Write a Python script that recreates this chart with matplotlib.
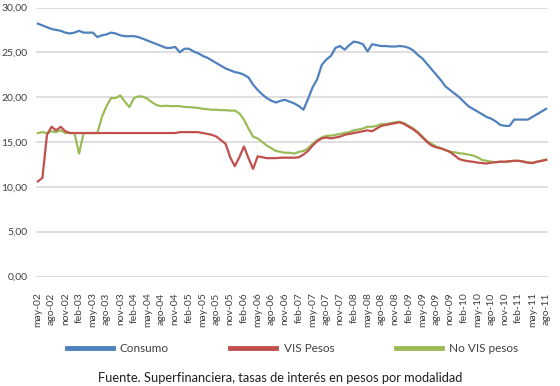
import matplotlib
matplotlib.use("Agg")
import matplotlib.pyplot as plt
import numpy as np

plt.rcParams['font.family'] = ['Lato', 'DejaVu Sans']

months_es = ['ene', 'feb', 'mar', 'abr', 'may', 'jun', 'jul', 'ago', 'sep', 'oct', 'nov', 'dic']
# monthly labels May 2002 .. Aug 2011
labels = []
for k in range(112):
    m = (4 + k) % 12
    y = 2002 + (4 + k) // 12
    labels.append(f"{months_es[m]}-{y % 100:02d}")

consumo = [28.2, 28.0, 27.8, 27.6, 27.5, 27.4, 27.2, 27.1, 27.2, 27.4,
           27.2, 27.2, 27.2, 26.7, 26.9, 27.0, 27.2, 27.1, 26.9, 26.8,
           26.8, 26.8, 26.7, 26.5, 26.3, 26.1, 25.9, 25.7, 25.5, 25.5,
           25.6, 25.0, 25.4, 25.4, 25.1, 24.9, 24.6, 24.4, 24.1, 23.8,
           23.5, 23.2, 23.0, 22.8, 22.7, 22.5, 22.2, 21.4, 20.8, 20.3,
           19.9, 19.6, 19.4, 19.6, 19.7, 19.5, 19.3, 19.0, 18.6, 19.8,
           21.1, 22.0, 23.6, 24.2, 24.6, 25.5, 25.7, 25.3, 25.8, 26.2,
           26.1, 25.9, 25.1, 25.9, 25.8, 25.7, 25.7, 25.65, 25.65, 25.7,
           25.65, 25.5, 25.2, 24.7, 24.3, 23.7, 23.1, 22.5, 21.9, 21.2,
           20.8, 20.4, 20.0, 19.5, 19.0, 18.7, 18.4, 18.1, 17.8, 17.6,
           17.3, 16.9, 16.8, 16.8, 17.5, 17.5, 17.5, 17.5, 17.8, 18.1,
           18.4, 18.7]

vis_pesos = [10.6, 11.0, 15.8, 16.7, 16.3, 16.7, 16.2, 16.0, 16.0, 16.0,
             16.0, 16.0, 16.0, 16.0, 16.0, 16.0, 16.0, 16.0, 16.0, 16.0,
             16.0, 16.0, 16.0, 16.0, 16.0, 16.0, 16.0, 16.0, 16.0, 16.0,
             16.0, 16.1, 16.1, 16.1, 16.1, 16.1, 16.0, 15.9, 15.8, 15.6,
             15.2, 14.8, 13.3, 12.3, 13.3, 14.5, 13.2, 12.0, 13.4, 13.3,
             13.2, 13.2, 13.2, 13.25, 13.25, 13.25, 13.25, 13.3, 13.6, 14.0,
             14.6, 15.1, 15.4, 15.5, 15.4, 15.5, 15.6, 15.8, 15.9, 16.0,
             16.1, 16.2, 16.3, 16.2, 16.5, 16.8, 16.9, 17.0, 17.1, 17.2,
             17.0, 16.7, 16.4, 16.0, 15.5, 15.0, 14.6, 14.4, 14.3, 14.1,
             13.9, 13.5, 13.1, 12.95, 12.85, 12.8, 12.7, 12.65, 12.6, 12.7,
             12.75, 12.8, 12.8, 12.85, 12.9, 12.9, 12.8, 12.7, 12.65, 12.8,
             12.9, 13.0]

no_vis_pesos = [16.0, 16.1, 16.0, 16.2, 16.1, 16.3, 16.0, 16.0, 16.0, 13.7,
                16.0, 16.0, 16.0, 16.0, 17.8, 19.0, 19.9, 19.9, 20.2, 19.5,
                18.9, 19.9, 20.1, 20.05, 19.8, 19.4, 19.1, 19.0, 19.05, 19.0,
                19.0, 19.0, 18.9, 18.9, 18.85, 18.8, 18.7, 18.65, 18.6, 18.6,
                18.55, 18.55, 18.5, 18.5, 18.2, 17.5, 16.5, 15.6, 15.4, 15.0,
                14.6, 14.3, 14.0, 13.9, 13.8, 13.8, 13.7, 13.9, 14.0, 14.3,
                14.8, 15.2, 15.5, 15.7, 15.7, 15.8, 15.9, 16.0, 16.1, 16.3,
                16.4, 16.5, 16.7, 16.7, 16.8, 17.0, 17.0, 17.1, 17.2, 17.25,
                17.1, 16.8, 16.5, 16.1, 15.6, 15.1, 14.8, 14.5, 14.3, 14.1,
                13.9, 13.85, 13.75, 13.7, 13.6, 13.5, 13.3, 13.0, 12.9, 12.8,
                12.75, 12.8, 12.8, 12.85, 12.9, 12.9, 12.85, 12.7, 12.7, 12.8,
                12.9, 13.05]

yticks = [0, 5, 10, 15, 20, 25, 30]
ytick_labels = ["0,00", "5,00", "10,00", "15,00", "20,00", "25,00", "30,00"]

W, H = 560, 386
fig = plt.figure(figsize=(W / 100, H / 100), dpi=100)
fig.patch.set_facecolor('white')
ax = fig.add_axes([36 / W, (H - 276.5) / H, (548 - 36) / W, (276.5 - 7.5) / H])

x = np.arange(len(labels))
ax.plot(x, consumo, color='#4F81BD', lw=1.6, label='Consumo', zorder=3)
ax.plot(x, vis_pesos, color='#C0504D', lw=1.6, label='VIS Pesos', zorder=4)
ax.plot(x, no_vis_pesos, color='#9BBB59', lw=1.6, label='No VIS pesos', zorder=3)

ax.set_xlim(-0.4, len(labels) - 0.6)
ax.set_ylim(0, 30)
ax.set_yticks(yticks)
ax.set_yticklabels(ytick_labels, fontsize=7.5, color='#404040')
ax.yaxis.grid(True, color='#D9D9D9', lw=1.2)
ax.set_axisbelow(True)
ax.set_xticks(x[::3])
ax.set_xticklabels(labels[::3], rotation=90, fontsize=7.5, color='#404040')
ax.tick_params(length=0)
ax.tick_params(axis='x', pad=11.5)
ax.tick_params(axis='y', pad=6)
for s in ax.spines.values():
    s.set_visible(False)

fig.legend(loc='center', bbox_to_anchor=(0.522, 1 - 349 / H), ncol=3, frameon=False,
           fontsize=8.5, handlelength=3.9, columnspacing=5.2, handletextpad=0.6,
           labelcolor='#404040')
for l in fig.legends[0].get_lines():
    l.set_linewidth(3.5)

fig.text(0.5, 1 - 378 / H, "Fuente. Superfinanciera, tasas de interés en pesos por modalidad",
         ha='center', va='center', fontsize=9.3, color='#202020')

fig.savefig('out.png', dpi=100)
